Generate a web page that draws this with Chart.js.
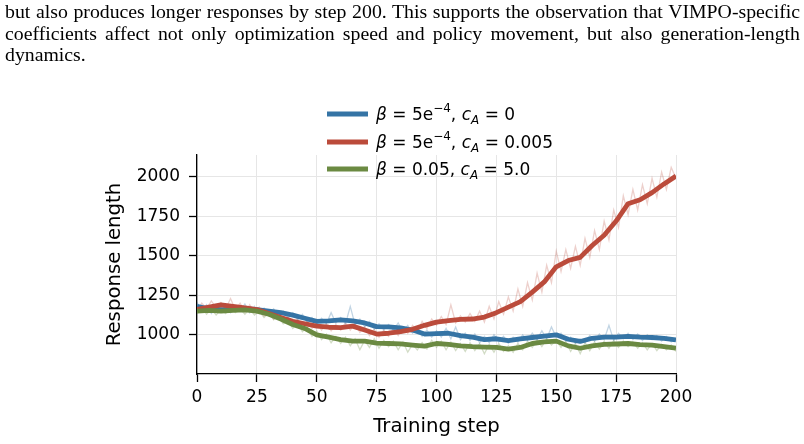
<!DOCTYPE html>
<html>
<head>
<meta charset="utf-8">
<script src="https://cdn.jsdelivr.net/npm/chart.js@4.4.1/dist/chart.umd.min.js"></script>
<style>
  html, body { margin: 0; padding: 0; background: #fff; }
  body { width: 804px; height: 444px; position: relative; overflow: hidden; }
  #para {
    position: absolute; left: 5px; top: 1px; width: 795px;
    font-family: "Liberation Serif", "Times New Roman", serif;
    font-size: 19.8px; line-height: 21.5px; color: #000; z-index: 2;
  }
  #para .j { text-align: justify; text-align-last: justify; white-space: nowrap; }
  #para .l { text-align: left; }
  #wrap { position: absolute; left: 0; top: 0; width: 804px; height: 444px; }
</style>
</head>
<body>
<div id="para">
  <div class="j" style="white-space: normal">but also produces longer responses by step 200. This supports the observation that VIMPO-specific</div>
  <div class="j" style="white-space: normal">coefficients affect not only optimization speed and policy movement, but also generation-length</div>
  <div class="l">dynamics.</div>
</div>
<div id="wrap"><canvas id="c" width="804" height="444"></canvas></div>
<script>
// ---- data ----
const xTicks = [0, 25, 50, 75, 100, 125, 150, 175, 200];
const yTicks = [1000, 1250, 1500, 1750, 2000];
const xTitle = "Training step";
const yTitle = "Response length";

// smoothed curves, one value every 5 steps (0..200)
const smoothBlue = [1180,1165,1160,1160,1165,1160,1150,1140,1125,1105,1085,1088,1094,1088,1075,1052,1050,1044,1030,1005,1008,1010,995,985,970,975,964,975,983,992,1000,972,958,978,985,985,990,985,983,978,968];
const smoothRed = [1160,1175,1190,1180,1170,1160,1135,1110,1085,1070,1055,1048,1045,1055,1030,1005,1010,1020,1035,1060,1080,1090,1098,1100,1112,1140,1175,1210,1270,1335,1430,1470,1490,1565,1630,1720,1830,1855,1900,1955,2005];
const smoothGreen = [1150,1155,1150,1155,1158,1150,1130,1100,1065,1040,1000,985,970,960,960,948,945,943,935,928,945,940,930,925,922,920,910,920,945,955,960,930,915,930,940,942,945,938,935,925,915];

// raw (faint) curves, one value every 2 steps (0..200)
const rawBlue = [1205,1150,1190,1135,1175,1150,1185,1140,1170,1150,1195,1140,1180,1135,1170,1125,1165,1120,1150,1105,1140,1095,1130,1080,1110,1065,1105,1070,1140,1075,1110,1070,1180,1065,1100,1050,1085,1035,1070,1030,1065,1030,1075,1020,1060,1010,1045,990,1030,985,1025,985,1040,975,1050,970,1010,965,1005,950,990,950,1000,955,990,945,985,955,1000,965,1010,970,1025,975,1050,985,1010,960,985,945,975,950,995,960,1005,970,1060,965,1010,975,1010,970,1005,965,1000,970,995,960,990,955,975];
const rawRed = [1150,1200,1165,1215,1170,1205,1165,1230,1160,1200,1145,1190,1140,1175,1120,1150,1100,1140,1085,1115,1060,1100,1050,1090,1040,1075,1030,1070,1025,1065,1030,1075,1030,1070,1015,1050,995,1035,985,1030,990,1040,995,1050,1010,1060,1020,1085,1040,1100,1060,1115,1065,1190,1075,1120,1080,1135,1085,1150,1080,1180,1100,1210,1130,1240,1150,1290,1180,1330,1220,1390,1270,1440,1330,1530,1400,1540,1420,1560,1440,1610,1490,1660,1540,1720,1600,1790,1680,1880,1760,1920,1790,1950,1830,1990,1870,2030,1920,2060,1990];
const rawGreen = [1135,1170,1130,1165,1125,1160,1135,1175,1140,1165,1130,1165,1125,1150,1110,1140,1095,1120,1070,1090,1040,1075,1020,1050,990,1025,970,1005,950,990,945,985,930,975,905,965,920,975,915,965,925,960,905,955,890,940,905,950,910,965,920,960,905,955,900,945,895,950,900,945,880,940,890,945,895,930,890,945,905,960,920,970,925,975,935,965,920,960,895,945,880,950,900,955,910,960,915,965,920,960,925,955,915,950,905,945,900,940,905,935,895];

// legend labels as math pieces
const legendLabels = [
  [{t:"β",i:1},{t:" = 5e"},{t:"−4",sup:1},{t:", "},{t:"c",i:1},{t:"A",sub:1,i:1},{t:" = 0"}],
  [{t:"β",i:1},{t:" = 5e"},{t:"−4",sup:1},{t:", "},{t:"c",i:1},{t:"A",sub:1,i:1},{t:" = 0.005"}],
  [{t:"β",i:1},{t:" = 0.05, "},{t:"c",i:1},{t:"A",sub:1,i:1},{t:" = 5.0"}]
];

// ---- styles ----
const COL = ["#3574a5", "#bb4b3b", "#6b8a42"];
const COL_FAINT = ["rgba(53,116,165,0.3)", "rgba(187,75,59,0.26)", "rgba(107,138,66,0.3)"];

const smoothStep = 5, rawStep = 2;
const toXY = (arr, step) => arr.map((v, i) => ({x: i * step, y: v}));

const smooth = [smoothBlue, smoothRed, smoothGreen];
const raw = [rawBlue, rawRed, rawGreen];
const datasets = [];
raw.forEach((arr, k) => datasets.push({
  data: toXY(arr, rawStep), borderColor: COL_FAINT[k], borderWidth: 1.3,
  pointRadius: 0, tension: 0, order: 10 + k
}));
const smoothOrder = [3, 2, 1];
smooth.forEach((arr, k) => datasets.push({
  data: toXY(arr, smoothStep), borderColor: COL[k], borderWidth: 4.8,
  borderJoinStyle: 'round', pointRadius: 0, tension: 0, order: smoothOrder[k]
}));

const FONT = "'DejaVu Sans', sans-serif";

const legendPlugin = {
  id: 'mathLegend',
  afterDraw(chart) {
    const ctx = chart.ctx;
    const rows = [114, 142, 169];
    ctx.save();
    legendLabels.forEach((parts, k) => {
      const y = rows[k];
      ctx.strokeStyle = COL[k];
      ctx.lineWidth = 4.8;
      ctx.lineCap = 'butt';
      ctx.beginPath(); ctx.moveTo(327, y); ctx.lineTo(368, y); ctx.stroke();
      let x = 376;
      ctx.fillStyle = '#000';
      ctx.textBaseline = 'alphabetic';
      const base = y + 6;
      parts.forEach(p => {
        const size = (p.sup || p.sub) ? 12 : 17;
        ctx.font = (p.i ? 'italic ' : '') + size + 'px ' + FONT;
        let yy = base;
        if (p.sup) yy = base - 8;
        if (p.sub) yy = base + 4;
        ctx.fillText(p.t, x, yy);
        x += ctx.measureText(p.t).width;
      });
    });
    ctx.restore();
  }
};

new Chart(document.getElementById('c'), {
  type: 'line',
  data: { datasets },
  plugins: [legendPlugin],
  options: {
    responsive: false,
    animation: false,
    devicePixelRatio: 1,
    layout: { padding: { left: 99, right: 128, top: 155, bottom: 2 } },
    plugins: { legend: { display: false }, tooltip: { enabled: false } },
    scales: {
      x: {
        type: 'linear', min: 0, max: 200,
        afterBuildTicks: s => { s.ticks = xTicks.map(v => ({value: v})); },
        afterFit: s => { s.height = 68; },
        grid: { color: '#e6e6e6', lineWidth: 1, tickColor: '#000', tickLength: 8, tickWidth: 1.3 },
        border: { color: '#000', width: 1.3 },
        ticks: { color: '#000', font: { family: FONT, size: 17 }, padding: 5, maxRotation: 0, autoSkip: false, callback: v => String(v) },
        title: { display: true, text: xTitle, color: '#000', font: { family: FONT, size: 19.7 }, padding: { top: 2, bottom: 3 } }
      },
      y: {
        type: 'linear', min: 752, max: 2138,
        afterBuildTicks: s => { s.ticks = yTicks.map(v => ({value: v})); },
        afterFit: s => { s.width = 98; },
        grid: { color: '#e6e6e6', lineWidth: 1, tickColor: '#000', tickLength: 8, tickWidth: 1.3 },
        border: { color: '#000', width: 1.3 },
        ticks: { color: '#000', font: { family: FONT, size: 17 }, padding: 9, callback: v => String(v) },
        title: { display: true, text: yTitle, color: '#000', font: { family: FONT, size: 19.7 }, padding: 4 }
      }
    }
  }
});
</script>
</body>
</html>
